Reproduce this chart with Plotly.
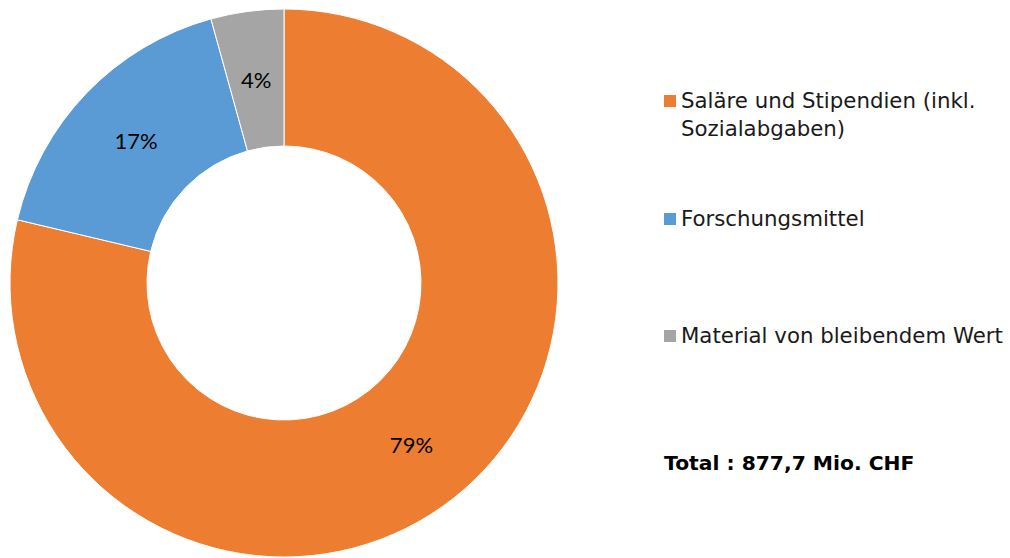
import math
import plotly.graph_objects as go

labels = ["Saläre und Stipendien (inkl.<br>Sozialabgaben)", "Forschungsmittel", "Material von bleibendem Wert"]
values = [690.8, 149.2, 37.7]
colors = ["#ED7D31", "#5B9BD5", "#A5A5A5"]
total_text = "Total : 877,7 Mio. CHF"

FONT = "DejaVu Sans, Verdana, sans-serif"
PCT_FONT = dict(family="Lato, Open Sans, sans-serif", size=22, color="black")

W, H = 1010, 558
dom_x = [10/W, 558/W]
dom_y = [1-557/558, 1-9/558]
HOLE = 0.5

total = sum(values)
pcts = [v / total for v in values]
# small slices: label placed at mid ring by annotation (plotly would push it outward)
textpos = ["inside" if p > 0.1 else "none" for p in pcts]

fig = go.Figure()
fig.add_trace(go.Pie(
    labels=labels,
    values=values,
    hole=HOLE,
    sort=False,
    direction="clockwise",
    rotation=0,
    marker=dict(colors=colors, line=dict(color="white", width=1)),
    texttemplate="%{percent:.0%}",
    textposition=textpos,
    insidetextorientation="horizontal",
    textfont=PCT_FONT,
    showlegend=False,
    domain=dict(x=dom_x, y=dom_y),
))

# center & radius of the pie in paper coords
cx = (dom_x[0] + dom_x[1]) / 2
cy = (dom_y[0] + dom_y[1]) / 2
r_px = min((dom_x[1]-dom_x[0]) * W, (dom_y[1]-dom_y[0]) * H) / 2
r_mid = r_px * (1 + HOLE) / 2
cum = 0.0
for p, tp in zip(pcts, textpos):
    if tp == "none":
        ang = 2 * math.pi * (cum + p / 2)
        ax = cx + r_mid * math.sin(ang) / W
        ay = cy + r_mid * math.cos(ang) / H
        fig.add_annotation(text=f"{round(p*100)}%", xref="paper", yref="paper",
                           x=ax, y=ay, xanchor="center", yanchor="middle",
                           showarrow=False, font=PCT_FONT)
    cum += p

legend_y = [101, 219, 336]
for lab, col, yc in zip(labels, colors, legend_y):
    fig.add_shape(type="rect", xref="paper", yref="paper",
                  x0=664/W, x1=676/W, y0=1-(yc+6)/H, y1=1-(yc-6)/H,
                  fillcolor=col, line=dict(width=0))
    fig.add_annotation(text=lab, xref="paper", yref="paper",
                       x=679/W, y=1-(yc-15)/H, xanchor="left", yanchor="top",
                       align="left", showarrow=False,
                       font=dict(family=FONT, size=21.3, color="#1a1a1a"))

fig.add_annotation(text="<b>" + total_text + "</b>", xref="paper", yref="paper",
                   x=662/W, y=1-463/H, xanchor="left", yanchor="middle",
                   showarrow=False, font=dict(family=FONT, size=20.3, color="black"))

fig.update_layout(
    width=W, height=H,
    margin=dict(l=0, r=0, t=0, b=0),
    paper_bgcolor="white", plot_bgcolor="white",
)
fig.write_html("out.html", config={"displayModeBar": False},
               post_script="document.body.style.margin='0';document.body.style.overflow='hidden';")
